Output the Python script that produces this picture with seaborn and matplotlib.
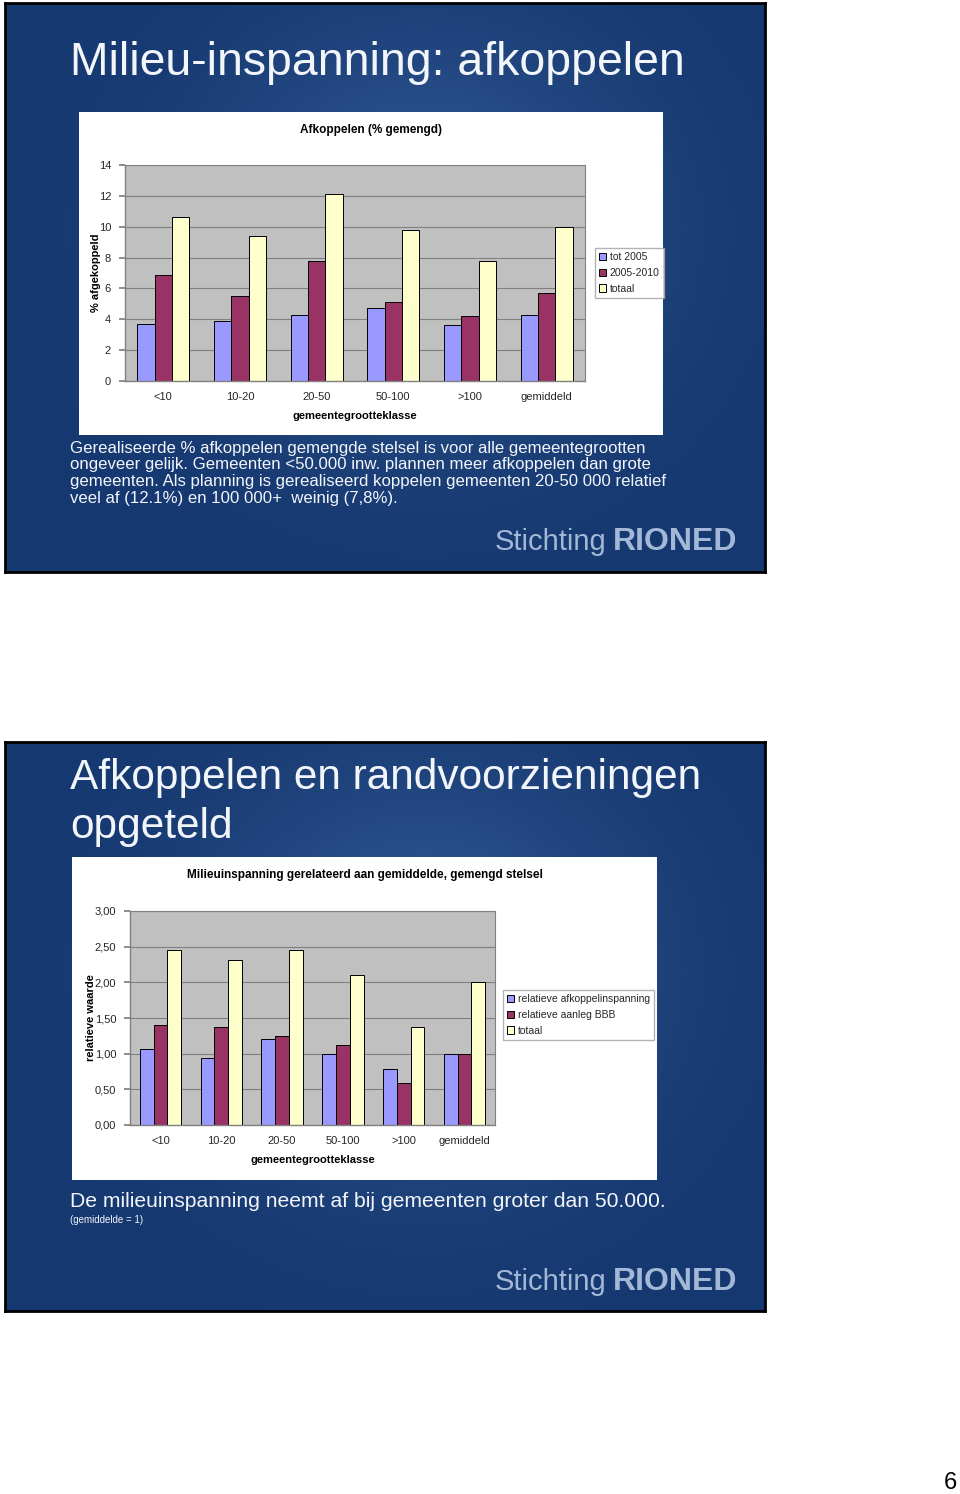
import matplotlib
matplotlib.use("Agg")
import matplotlib.pyplot as plt
import matplotlib.patches as mpatches
import numpy as np
import pandas as pd
import seaborn as sns

W, H = 960, 1494

# chart 1 data
klassen = ["<10", "10-20", "20-50", "50-100", ">100", "gemiddeld"]
tot_2005 = [3.7, 3.9, 4.3, 4.7, 3.6, 4.3]
p2005_2010 = [6.9, 5.5, 7.8, 5.1, 4.2, 5.7]
totaal_1 = [10.6, 9.4, 12.1, 9.8, 7.8, 10.0]
reeksen_1 = ["tot 2005", "2005-2010", "totaal"]
yticks_1 = [0, 2, 4, 6, 8, 10, 12, 14]

# chart 2 data
rel_afkoppel = [1.07, 0.94, 1.20, 0.99, 0.78, 1.00]
rel_bbb = [1.40, 1.38, 1.25, 1.12, 0.59, 1.00]
totaal_2 = [2.46, 2.31, 2.45, 2.10, 1.38, 2.00]
reeksen_2 = ["relatieve afkoppelinspanning", "relatieve aanleg BBB", "totaal"]
yticks_2 = [0, 0.5, 1.0, 1.5, 2.0, 2.5, 3.0]

colors = ["#9999FF", "#993366", "#FFFFCC"]

sns.set_theme(style="white")
plt.rcParams['font.family'] = ['Liberation Sans', 'DejaVu Sans']

fig = plt.figure(figsize=(W / 100, H / 100), dpi=100)
fig.patch.set_facecolor("white")


def box(x0, y0, x1, y1):
    return [x0 / W, 1 - y1 / H, (x1 - x0) / W, (y1 - y0) / H]


def txt(x, y, s, **kw):
    fig.text(x / W, 1 - y / H, s, **kw)


def slide_bg(x0, y0, x1, y1):
    ax = fig.add_axes(box(x0, y0, x1, y1))
    h, w = y1 - y0, x1 - x0
    yy, xx = np.mgrid[0:1:h * 1j, 0:1:w * 1j]
    base = np.array([22, 56, 112]) / 255
    light = np.array([48, 88, 146]) / 255
    glow = np.exp(-((xx - 0.55) ** 2 / 0.08 + (yy - 0.4) ** 2 / 0.12))
    img = base + (light - base) * glow[..., None]
    ax.imshow(img, aspect="auto", extent=(0, 1, 0, 1))
    ax.set_xticks([])
    ax.set_yticks([])
    for s in ax.spines.values():
        s.set_color("black")
        s.set_linewidth(2)
    return ax


def chart(frame, plot_box, data, reeksen, yticks, fmt, title, title_y, ylabel, ylabel_x,
          xlabel_y, legend_xy):
    fig.add_artist(mpatches.Rectangle((frame[0] / W, 1 - frame[3] / H),
                                      (frame[2] - frame[0]) / W, (frame[3] - frame[1]) / H,
                                      transform=fig.transFigure, facecolor="white",
                                      edgecolor="none", zorder=1))
    ax = fig.add_axes(box(*plot_box))
    ax.set_zorder(2)
    df = pd.DataFrame({
        "klasse": klassen * 3,
        "waarde": data[0] + data[1] + data[2],
        "reeks": [r for r in reeksen for _ in klassen],
    })
    sns.barplot(data=df, x="klasse", y="waarde", hue="reeks", palette=colors,
                edgecolor="black", linewidth=0.7, width=0.68, gap=0, ax=ax,
                saturation=1)
    ax.set_facecolor("#C0C0C0")
    ax.set_ylim(yticks[0], yticks[-1])
    ax.set_xlim(-0.5, len(klassen) - 0.5)
    ax.set_yticks(yticks)
    ax.set_yticklabels([fmt(v) for v in yticks], fontsize=8)
    ax.set_xticklabels(klassen, fontsize=8)
    ax.yaxis.grid(True, color="#808080", linewidth=0.8)
    ax.set_axisbelow(True)
    ax.set_xticks(np.arange(-0.5, len(klassen), 1), minor=True)
    ax.tick_params(axis="x", which="major", length=0, pad=8)
    ax.tick_params(axis="x", which="minor", length=4, color="#808080", direction="out")
    ax.tick_params(axis="y", length=4, color="#808080", direction="out", pad=6, left=True)
    for s in ["top", "right"]:
        ax.spines[s].set_color("#808080")
        ax.spines[s].set_linewidth(0.8)
    for s in ["left", "bottom"]:
        ax.spines[s].set_color("#808080")
        ax.spines[s].set_linewidth(1.0)
    ax.set_xlabel("")
    ax.set_ylabel("")
    ax.legend_.remove()
    handles = [mpatches.Patch(facecolor=c, edgecolor="black", linewidth=0.7) for c in colors]
    fig.legend(handles, reeksen, loc="upper left",
               bbox_to_anchor=(legend_xy[0] / W, 1 - legend_xy[1] / H),
               fontsize=7.5, frameon=True, fancybox=False, edgecolor="#A0A0A0",
               handlelength=0.7, handleheight=0.7, handletextpad=0.3,
               labelspacing=0.55, borderpad=0.4, borderaxespad=0)
    cx = (frame[0] + frame[2]) / 2
    txt(cx, title_y, title, ha="center", va="center", fontsize=8.5, fontweight="bold",
        color="black", zorder=3)
    txt(ylabel_x, (plot_box[1] + plot_box[3]) / 2, ylabel, rotation=90, ha="center",
        va="center", fontsize=8, fontweight="bold", color="black", zorder=3)
    txt((plot_box[0] + plot_box[2]) / 2, xlabel_y, "gemeentegrootteklasse", ha="center",
        va="center", fontsize=8, fontweight="bold", color="black", zorder=3)
    return ax


tcol = "#F2F5FA"
logo = "#A3B8D6"

# ---- slide 1
slide_bg(5, 3, 765, 572)
txt(70, 75, "Milieu-inspanning: afkoppelen", fontsize=33.4, color=tcol, va="baseline")
chart((79, 112, 663, 435), (125, 165, 585, 381), [tot_2005, p2005_2010, totaal_1],
      reeksen_1, yticks_1, lambda v: f"{v:g}", "Afkoppelen (% gemengd)", 130,
      "% afgekoppeld", 96, 416, (595, 248))
para = ["Gerealiseerde % afkoppelen gemengde stelsel is voor alle gemeentegrootten",
        "ongeveer gelijk. Gemeenten <50.000 inw. plannen meer afkoppelen dan grote",
        "gemeenten. Als planning is gerealiseerd koppelen gemeenten 20-50 000 relatief",
        "veel af (12.1%) en 100 000+  weinig (7,8%)."]
for i, line in enumerate(para):
    txt(70, 453 + i * 16.5, line, fontsize=12.1, color=tcol, va="baseline")
txt(495, 550, "Stichting", fontsize=21, color=logo, va="baseline")
txt(613, 550, "RIONED", fontsize=23, color=logo, fontweight="bold", va="baseline")

# ---- slide 2
slide_bg(5, 742, 765, 1311)
txt(70, 789, "Afkoppelen en randvoorzieningen", fontsize=30.5, color=tcol, va="baseline")
txt(70, 838, "opgeteld", fontsize=30.5, color=tcol, va="baseline")
chart((72, 857, 657, 1180), (130, 911, 495, 1125), [rel_afkoppel, rel_bbb, totaal_2],
      reeksen_2, yticks_2, lambda v: f"{v:.2f}".replace(".", ","),
      "Milieuinspanning gerelateerd aan gemiddelde, gemengd stelsel", 875,
      "relatieve waarde", 91, 1160, (503, 990))
txt(70, 1207, "De milieuinspanning neemt af bij gemeenten groter dan 50.000.", fontsize=15.2,
    color=tcol, va="baseline")
txt(70, 1223, "(gemiddelde = 1)", fontsize=7, color=tcol, va="baseline")
txt(495, 1290, "Stichting", fontsize=21, color=logo, va="baseline")
txt(613, 1290, "RIONED", fontsize=23, color=logo, fontweight="bold", va="baseline")

txt(950, 1483, "6", fontsize=17, color="black", ha="center", va="center")

fig.savefig("out.png", dpi=100)
